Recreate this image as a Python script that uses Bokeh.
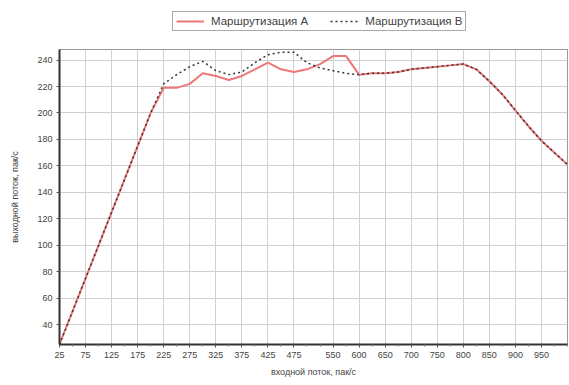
from bokeh.plotting import figure
from bokeh.models import FixedTicker, Legend, LegendItem, Range1d
from bokeh.layouts import column
from bokeh.embed import file_html
from bokeh.resources import INLINE

# input flow, packets/s
x_in = [25, 50, 75, 100, 125, 150, 175, 200, 225, 250, 275, 300, 325, 350, 375, 400,
        425, 450, 475, 500, 525, 550, 575, 600, 625, 650, 675, 700, 725, 750, 775, 800,
        825, 850, 875, 900, 925, 950, 975, 1000]

route_a = [25, 50, 75, 100, 125, 150, 175, 200, 219, 219, 222, 230, 228, 225, 228, 233,
           238, 233, 231, 233, 237, 243, 243, 229, 230, 230, 231, 233, 234, 235, 236, 237,
           233, 224, 214, 202, 190, 179, 170, 161]

route_b = [25, 50, 75, 100, 125, 150, 175, 200, 222, 229, 235, 239, 232, 229, 231, 238,
           244, 246, 246, 238, 234, 232, 230, 229, 230, 230, 231, 233, 234, 235, 236, 237,
           233, 224, 214, 202, 190, 179, 170, 161]

x_ticks = [25, 75, 125, 175, 225, 275, 325, 375, 425, 475, 550, 600, 650, 700, 750, 800,
           850, 900, 950]
y_ticks = [40, 60, 80, 100, 120, 140, 160, 180, 200, 220, 240]

series_names = ["Маршрутизация A", "Маршрутизация B"]

FONT = "Liberation Sans"
COL_A = "#ee7777"
COL_B = "#333333"
NAN = float("nan")

# --- legend strip on top ---
TOP_H = 46
top = figure(width=569, height=TOP_H, output_backend="svg", toolbar_location=None,
             x_range=Range1d(0, 569), y_range=Range1d(0, TOP_H),
             min_border_left=0, min_border_right=0, min_border_top=0, min_border_bottom=0,
             border_fill_color="white", background_fill_color="white")
top.axis.visible = False
top.grid.visible = False
top.outline_line_color = None
# legend proxies (one NaN row each, so nothing is drawn in the strip itself)
la = top.line([NAN], [NAN], line_color=COL_A, line_width=2)
lb = top.line([NAN], [NAN], line_color=COL_B, line_width=1.5, line_dash="2 3")
legend = Legend(items=[LegendItem(label=series_names[0], renderers=[la]),
                       LegendItem(label=series_names[1], renderers=[lb])],
                orientation="horizontal", location=(113, 15))
legend.border_line_color = "#555555"
legend.border_line_width = 1
legend.background_fill_color = "white"
legend.background_fill_alpha = 1
legend.label_text_font = FONT
legend.label_text_font_size = "11.5px"
legend.label_text_color = "#444444"
legend.glyph_width = 28
legend.glyph_height = 8
legend.label_standoff = 7
legend.spacing = 22
legend.padding = 3
legend.margin = 0
legend.label_height = 11
top.add_layout(legend, "center")

# --- main chart ---
p = figure(width=569, height=385 - TOP_H, output_backend="svg", toolbar_location=None,
           x_range=Range1d(25, 1000), y_range=Range1d(25, 248),
           min_border_left=59, min_border_right=2, min_border_top=49 - TOP_H,
           min_border_bottom=41,
           background_fill_color="white", border_fill_color="white")

p.outline_line_color = "#999999"
p.outline_line_width = 1

minor = [v for v in x_in if v not in x_ticks]
p.xaxis.ticker = FixedTicker(ticks=x_ticks, minor_ticks=minor)
p.yaxis.ticker = FixedTicker(ticks=y_ticks)

for ax in (p.xaxis[0], p.yaxis[0]):
    ax.axis_line_color = "#333333"
    ax.axis_line_width = 2
    ax.major_tick_line_color = "#555555"
    ax.major_tick_out = 3
    ax.major_tick_in = 0
    ax.minor_tick_line_color = "#777777"
    ax.minor_tick_out = 2
    ax.minor_tick_in = 0
    ax.major_label_text_font = FONT
    ax.major_label_text_font_size = "9px"
    ax.major_label_text_color = "#444444"
    ax.axis_label_text_font = FONT
    ax.axis_label_text_font_size = "9px"
    ax.axis_label_text_font_style = "normal"
    ax.axis_label_text_color = "#444444"
    ax.major_label_standoff = 4
    ax.axis_label_standoff = 6

p.yaxis[0].minor_tick_out = 0
p.yaxis[0].axis_label_standoff = 14
p.xaxis.axis_label = "входной поток, пак/с"
p.yaxis.axis_label = "выходной поток, пак/с"

p.xgrid.grid_line_color = "#cfcfcf"
p.ygrid.grid_line_color = "#cfcfcf"
p.xgrid.grid_line_width = 1
p.ygrid.grid_line_width = 1

p.line(x_in, route_a, line_color=COL_A, line_width=2)
p.line(x_in, route_b, line_color=COL_B, line_width=1.5, line_dash="2 3")

layout = column(top, p, spacing=0)
open("out.html", "w").write(file_html(layout, INLINE))
